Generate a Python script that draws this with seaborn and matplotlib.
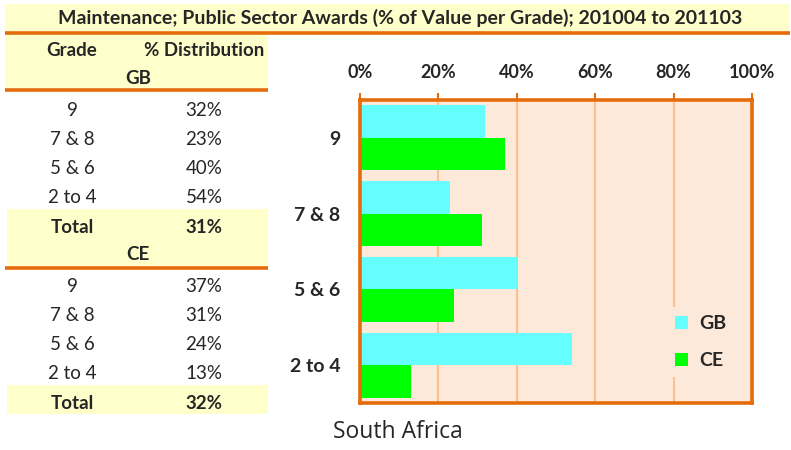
import pandas as pd
import seaborn as sns
import matplotlib.pyplot as plt
from matplotlib.patches import Rectangle
from matplotlib.ticker import FixedLocator

TITLE = 'Maintenance; Public Sector Awards (% of Value per Grade); 201004 to 201103'
grades = ['9', '7 & 8', '5 & 6', '2 to 4']
series = ['GB', 'CE']
gb_values = [32, 23, 40, 54]
ce_values = [37, 31, 24, 13]
totals = {'GB': 31, 'CE': 32}
x_ticks = [0, 20, 40, 60, 80, 100]
region = 'South Africa'

ORANGE = '#E46C0A'
YELLOW = '#FFFFCC'
PEACH = '#FDE9D9'
GRID = '#FAC090'
palette = {'GB': '#66FFFF', 'CE': '#00FF00'}
W, H = 791, 450
FNT = 'Lato'


def make_df():
    rows = []
    for s, vals in zip(series, [gb_values, ce_values]):
        for g, v in zip(grades, vals):
            rows.append({'grade': g, 'series': s, 'value': v})
    return pd.DataFrame(rows)


def draw_table(fig):
    # overlay axes in pixel coordinates for the left table and title bar
    ov = fig.add_axes([0, 0, 1, 1], zorder=-1)
    ov.set_xlim(0, W)
    ov.set_ylim(H, 0)
    ov.axis('off')
    ov.add_patch(Rectangle((5, 4), 785, 28, color=YELLOW, lw=0))
    ov.plot([5, 790], [33, 33], color=ORANGE, lw=2.6, solid_capstyle='butt')
    ov.text(400, 18, TITLE, ha='center', va='center', fontsize=14,
            fontweight='bold', family=FNT)

    ov.add_patch(Rectangle((5, 34), 263, 54, color=YELLOW, lw=0))
    ov.plot([5, 268], [89.5, 89.5], color=ORANGE, lw=2.6, solid_capstyle='butt')
    ov.text(72, 51, 'Grade', ha='center', va='center', fontsize=13.5, fontweight='bold', family=FNT)
    ov.text(204, 51, '% Distribution', ha='center', va='center', fontsize=13.5, fontweight='bold', family=FNT)
    ov.text(138, 78, 'GB', ha='center', va='center', fontsize=13.5, fontweight='bold', family=FNT)

    ov.add_patch(Rectangle((7, 209), 261, 57, color=YELLOW, lw=0))
    ov.plot([5, 268], [267.5, 267.5], color=ORANGE, lw=2.6, solid_capstyle='butt')
    ov.text(138, 255, 'CE', ha='center', va='center', fontsize=13.5, fontweight='bold', family=FNT)
    ov.add_patch(Rectangle((7, 385), 261, 29, color=YELLOW, lw=0))

    row_step = 28.8
    for s, vals, y0 in [('GB', gb_values, 111), ('CE', ce_values, 287)]:
        for i, (g, v) in enumerate(zip(grades, vals)):
            y = y0 + i * row_step
            ov.text(72, y, g, ha='center', va='center', fontsize=13.5, family=FNT)
            ov.text(204, y, f'{v}%', ha='center', va='center', fontsize=13.5, family=FNT)
        yt = y0 + 4 * row_step + 1
        ov.text(72, yt, 'Total', ha='center', va='center', fontsize=13.5, fontweight='bold', family=FNT)
        ov.text(204, yt, f'{totals[s]}%', ha='center', va='center', fontsize=13.5, fontweight='bold', family=FNT)

    ov.text(398, 432, region, ha='center', va='center', fontsize=16.5, family='Open Sans')


def draw_chart(fig, df):
    ax = fig.add_axes([360 / W, 1 - 403 / H, 392 / W, 303 / H])
    ax.set_facecolor(PEACH)
    sns.barplot(data=df, x='value', y='grade', hue='series', hue_order=series,
                order=grades, palette=palette, orient='h', width=0.86,
                saturation=1, linewidth=0, ax=ax, zorder=2)
    ax.set_xlim(0, 100)
    ax.set_ylim(len(grades) - 0.5, -0.5)
    ax.set_xlabel('')
    ax.set_ylabel('')

    ax.xaxis.tick_top()
    ax.set_xticks(x_ticks)
    ax.set_xticklabels([f'{t}%' for t in x_ticks], fontweight='bold', fontsize=13, family=FNT)
    ax.tick_params(axis='x', length=5, width=1.5, color=ORANGE, pad=9, direction='out')
    for t in x_ticks[1:-1]:
        ax.axvline(t, color=GRID, lw=1.5, zorder=1)

    ax.yaxis.set_major_locator(FixedLocator([i - 0.5 for i in range(len(grades) + 1)]))
    ax.yaxis.set_minor_locator(FixedLocator(list(range(len(grades)))))
    ax.set_yticklabels([], minor=False)
    ax.set_yticklabels(grades, minor=True, fontweight='bold', fontsize=14, family=FNT)
    ax.tick_params(axis='y', which='major', length=4, width=1.5, color=ORANGE)
    ax.tick_params(axis='y', which='minor', length=0, pad=14)

    for sp in ax.spines.values():
        sp.set_color(ORANGE)
        sp.set_linewidth(2.6)

    ax.legend(loc='lower right', bbox_to_anchor=(0.955, 0.085), frameon=True,
              facecolor=PEACH, edgecolor='none', framealpha=1,
              handlelength=0.65, handleheight=0.65, handletextpad=0.6,
              labelspacing=1.05, borderaxespad=0,
              prop={'weight': 'bold', 'size': 14, 'family': FNT})
    return ax


if __name__ == '__main__':
    sns.set_style('white')
    df = make_df()
    fig = plt.figure(figsize=(W / 100, H / 100), dpi=100)
    draw_table(fig)
    draw_chart(fig, df)
    fig.savefig('out.png', dpi=100)
